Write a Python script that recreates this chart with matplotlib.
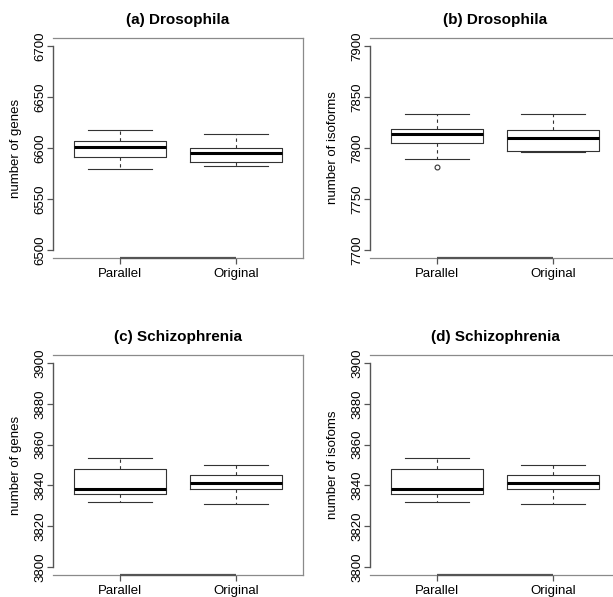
"""
Four R-style boxplots: Parallel vs Original gene / isoform counts
"""

import matplotlib
matplotlib.use("Agg")
import matplotlib.pyplot as plt

plt.rcParams['font.family'] = ['Liberation Sans', 'DejaVu Sans']

groups = ["Parallel", "Original"]

titles = ["(a) Drosophila", "(b) Drosophila", "(c) Schizophrenia", "(d) Schizophrenia"]
ylabels = ["number of genes", "number of isoforms", "number of genes", "number of isofoms"]
yticks = [
    [6500, 6550, 6600, 6650, 6700],
    [7700, 7750, 7800, 7850, 7900],
    [3800, 3820, 3840, 3860, 3880, 3900],
    [3800, 3820, 3840, 3860, 3880, 3900],
]

# five-number summaries per panel: [Parallel, Original]
whislo = [[6579, 6582], [7789, 7796], [3831.8, 3830.8], [3831.8, 3830.8]]
q1 = [[6591, 6586], [7805, 7797], [3835.8, 3838.0], [3835.8, 3838.0]]
med = [[6601, 6595], [7814, 7810], [3838.4, 3841.0], [3838.4, 3841.0]]
q3 = [[6607, 6600], [7819, 7818], [3848.0, 3845.2], [3848.0, 3845.2]]
whishi = [[6618, 6614], [7833, 7833], [3853.2, 3850.0], [3853.2, 3850.0]]
fliers = [[[], []], [[7781], []], [[], []], [[], []]]

W, H = 613, 597
# axes frames in pixels: left, right, top, bottom
frames = [(53, 303, 38, 258), (370, 620, 38, 258),
          (53, 303, 355, 575), (370, 620, 355, 575)]

fig = plt.figure(figsize=(W / 100, H / 100), dpi=100, facecolor='white')

frame_col = '#8a8a8a'
dark = '#333333'

for i in range(4):
    l, r, t, b = frames[i]
    ax = fig.add_axes([l / W, 1 - b / H, (r - l) / W, (b - t) / H])

    stats = []
    for j, name in enumerate(groups):
        stats.append(dict(whislo=whislo[i][j], q1=q1[i][j], med=med[i][j],
                          q3=q3[i][j], whishi=whishi[i][j],
                          fliers=fliers[i][j], label=name))

    ax.bxp(stats, positions=[1, 2], widths=0.8, capwidths=0.55,
           showfliers=True, patch_artist=False,
           boxprops=dict(color=dark, linewidth=0.8),
           medianprops=dict(color='black', linewidth=2.2),
           whiskerprops=dict(color=dark, linewidth=0.8, linestyle=(0, (3, 3))),
           capprops=dict(color=dark, linewidth=0.8),
           flierprops=dict(marker='o', markersize=3.5, markerfacecolor='none',
                           markeredgecolor=dark, markeredgewidth=0.8))

    lo, hi = yticks[i][0], yticks[i][-1]
    pad = (hi - lo) * 0.04
    ax.set_ylim(lo - pad, hi + pad)
    ax.set_xlim(0.42, 2.58)

    for s in ax.spines.values():
        s.set_color(frame_col)
        s.set_linewidth(0.9)
    ax.spines['left'].set_bounds(lo, hi)
    ax.spines['left'].set_color('#555555')
    ax.spines['left'].set_linewidth(1.0)
    # R-style x axis line between first and last tick
    ax.plot([1, 2], [lo - pad, lo - pad], color='#555555', linewidth=1.6,
            clip_on=False, solid_capstyle='butt', zorder=5)

    ax.set_yticks(yticks[i])
    ax.set_yticklabels([str(v) for v in yticks[i]], rotation=90, va='center',
                       fontsize=9.5)
    ax.set_xticks([1, 2])
    ax.set_xticklabels(groups, fontsize=9.5)
    ax.tick_params(axis='both', length=4.5, width=0.9, color='#555555')
    ax.tick_params(axis='y', pad=0.5)
    ax.tick_params(axis='x', pad=3)

    ax.set_ylabel(ylabels[i], fontsize=9.5, labelpad=8.5)
    ax.set_title(titles[i], fontsize=11, fontweight='bold', pad=10)

fig.savefig('out.png', dpi=100, facecolor='white')
